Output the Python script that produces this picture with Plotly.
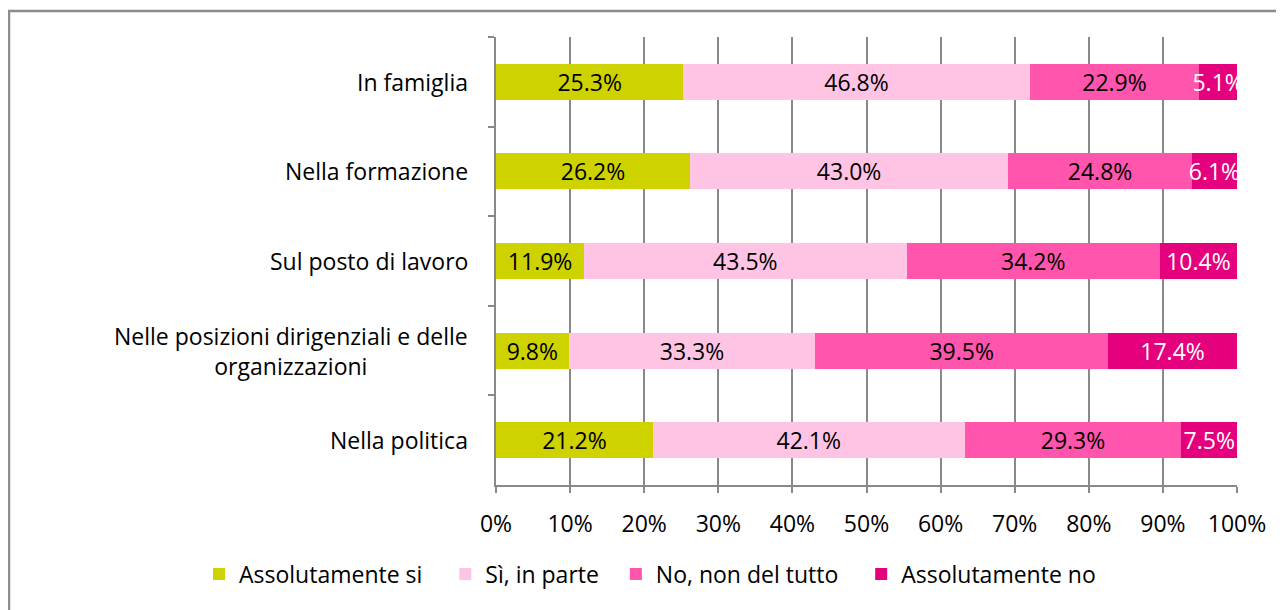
import plotly.graph_objects as go

categories = ["In famiglia", "Nella formazione", "Sul posto di lavoro",
              "Nelle posizioni dirigenziali e delle<br>organizzazioni", "Nella politica"]
series_names = ["Assolutamente si", "Sì, in parte", "No, non del tutto", "Assolutamente no"]
assolutamente_si = [25.3, 26.2, 11.9, 9.8, 21.2]
si_in_parte = [46.8, 43.0, 43.5, 33.3, 42.1]
no_non_del_tutto = [22.9, 24.8, 34.2, 39.5, 29.3]
assolutamente_no = [5.1, 6.1, 10.4, 17.4, 7.5]
x_ticks = [0, 0.1, 0.2, 0.3, 0.4, 0.5, 0.6, 0.7, 0.8, 0.9, 1.0]

colors = ["#CED300", "#FFC4E4", "#FF55AC", "#E5007E"]
text_colors = ["black", "black", "black", "white"]
values = [assolutamente_si, si_in_parte, no_non_del_tutto, assolutamente_no]
legend_pad = ["\u00a0\u00a0\u00a0", "\u00a0\u00a0", "\u00a0\u00a0\u00a0", ""]

FONT = "Open Sans, sans-serif"
FS = 23

fig = go.Figure()
for name, vals, col, tc, pad in zip(series_names, values, colors, text_colors, legend_pad):
    fig.add_trace(go.Bar(
        y=categories, x=vals, name=name + pad, orientation="h",
        marker=dict(color=col, line=dict(width=0)),
        text=[f"{v:.1f}%" for v in vals], textposition="inside",
        insidetextanchor="middle", constraintext="none",
        textfont=dict(color=tc, size=FS, family=FONT),
        hoverinfo="skip",
    ))

# page has an 8px body margin, so figure is 8px smaller and offset
W, H = 1276, 602
L, R, T, B = 488, 47, 29, 125
pw = W - L - R
ph = H - T - B

annotations = []
for c in categories:
    annotations.append(dict(
        x=-26 / pw, xref="paper", y=c, yref="y", text=c, showarrow=False,
        xanchor="right", align="center", font=dict(size=FS, family=FONT, color="black"),
    ))

GRID = "#898989"
fig.update_layout(
    width=W, height=H, autosize=False,
    margin=dict(l=L, r=R, t=T, b=B),
    barmode="stack", barnorm="fraction", bargap=0.6,
    paper_bgcolor="white", plot_bgcolor="white",
    font=dict(family=FONT, size=FS, color="black"),
    uniformtext=dict(minsize=FS, mode="show"),
    xaxis=dict(range=[0, 1], tickvals=x_ticks, tickformat=".0%",
               showgrid=True, gridcolor=GRID, gridwidth=2,
               showline=True, linecolor=GRID, linewidth=2,
               ticks="outside", ticklen=6, tickcolor=GRID, tickwidth=2,
               ticklabelstandoff=11,
               zeroline=False, fixedrange=True,
               tickfont=dict(size=FS, family=FONT)),
    yaxis=dict(autorange="reversed", showgrid=False, tickson="boundaries",
               ticks="outside", ticklen=6, tickcolor=GRID, tickwidth=2,
               showline=True, linecolor=GRID, linewidth=2,
               showticklabels=False, fixedrange=True),
    legend=dict(orientation="h", x=(191 - L) / pw, xanchor="left",
                y=-(566 - (T + ph)) / ph, yanchor="middle",
                font=dict(size=FS, family=FONT), traceorder="normal",
                itemwidth=30, itemsizing="constant"),
    annotations=annotations,
    shapes=[dict(type="rect", xref="paper", yref="paper",
                 x0=-(L - 1) / pw, x1=(W - L + 20) / pw,
                 y0=-(H - T + 20) / ph, y1=1 + (T - 3) / ph,
                 line=dict(color="#8c8c8c", width=2.5), fillcolor="rgba(0,0,0,0)",
                 layer="below")],
    showlegend=True,
)

fig.write_html("out.html")
